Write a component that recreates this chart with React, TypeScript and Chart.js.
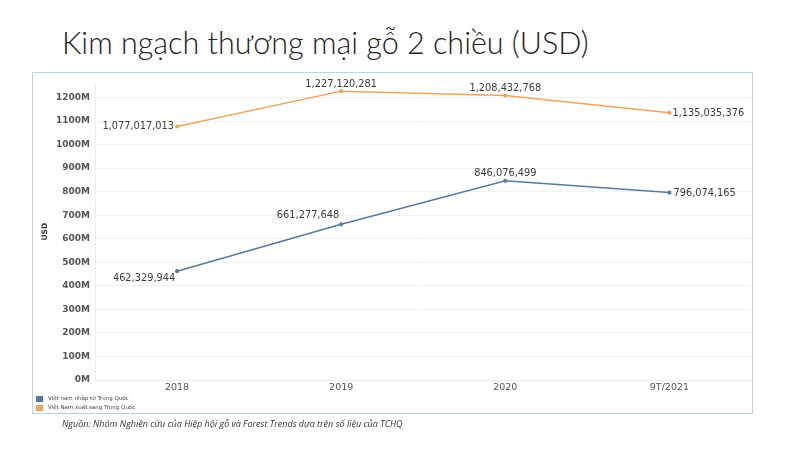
import React, { useEffect, useRef } from "react";
import { Chart, registerables } from "chart.js";

Chart.register(...registerables);

const categories = ["2018", "2019", "2020", "9T/2021"];
const importSeries = [462329944, 661277648, 846076499, 796074165];
const exportSeries = [1077017013, 1227120281, 1208432768, 1135035376];
const seriesNames = ["Việt nam nhập từ Trung Quốc", "Việt Nam xuất sang Trung Quốc"];
const yTickValues = [0, 100e6, 200e6, 300e6, 400e6, 500e6, 600e6, 700e6, 800e6, 900e6, 1000e6, 1100e6, 1200e6];
const yMax = 1260000000;

const titleText = "Kim ngạch thương mại gỗ 2 chiều (USD)";
const yTitle = "USD";
const sourceText = "Nguồn: Nhóm Nghiên cứu của Hiệp hội gỗ và Forest Trends dựa trên số liệu của TCHQ";

const BLUE = "#56799f";
const ORANGE = "#f0a35c";

// label placement per dataset per point: [align, dx, dy]
const labelPlacement: [CanvasTextAlign, number, number][][] = [
  [["center", -33, 7], ["right", -2, -9], ["center", 0, -7], ["left", 4, 1]],
  [["right", -3, 0], ["center", 0, -7], ["center", 0, -7], ["left", 3, 1]],
];

const fmt = (v: number) => v.toLocaleString("en-US");

const labelPlugin = {
  id: "pointLabels",
  afterDatasetsDraw(chart: any) {
    const ctx = chart.ctx;
    ctx.save();
    ctx.font = "9.8px 'DejaVu Sans'";
    ctx.fillStyle = "#3a3a3a";
    ctx.textBaseline = "middle";
    chart.data.datasets.forEach((ds: any, di: number) => {
      const meta = chart.getDatasetMeta(di);
      meta.data.forEach((pt: any, i: number) => {
        const [align, dx, dy] = labelPlacement[di][i];
        ctx.textAlign = align;
        ctx.fillText(fmt(ds.data[i]), pt.x + dx, pt.y + dy);
      });
    });
    ctx.restore();
  },
};

export default function App() {
  const ref = useRef<HTMLCanvasElement>(null);
  useEffect(() => {
    const chart = new Chart(ref.current!, {
      type: "line",
      data: {
        labels: categories,
        datasets: [
          {
            label: seriesNames[0],
            data: importSeries,
            borderColor: BLUE,
            backgroundColor: BLUE,
            borderWidth: 1.5,
            pointRadius: 1.3,
            tension: 0,
          },
          {
            label: seriesNames[1],
            data: exportSeries,
            borderColor: ORANGE,
            backgroundColor: ORANGE,
            borderWidth: 1.5,
            pointRadius: 1.3,
            tension: 0,
          },
        ],
      },
      options: {
        animation: false,
        responsive: false,
        layout: { padding: { left: 0, top: 8, right: 0, bottom: 13 } },
        plugins: { legend: { display: false }, tooltip: { enabled: false } },
        scales: {
          x: {
            offset: true,
            grid: { display: false, drawTicks: false },
            border: { color: "#ececec" },
            ticks: { color: "#555", font: { size: 9.5, family: "'DejaVu Sans'" }, padding: 2 },
            afterFit: (s: any) => { s.height = 20; },
          },
          y: {
            min: 0,
            max: yMax,
            afterBuildTicks: (s: any) => {
              s.ticks = yTickValues.map((v) => ({ value: v }));
            },
            ticks: {
              autoSkip: false,
              color: "#555",
              font: { size: 9, family: "'DejaVu Sans'", weight: "bold" },
              padding: 5,
              callback: (v: any) => `${Math.round(Number(v) / 1e6)}M`,
            },
            grid: { color: "#f1f1f1", drawTicks: false },
            border: { color: "#ececec" },
            title: {
              display: true,
              text: yTitle,
              color: "#333",
              font: { size: 7.5, weight: "bold", family: "'DejaVu Sans'" },
              padding: { top: 8, bottom: 0 },
            },
            afterFit: (s: any) => { s.width = 62; },
          },
        },
      },
      plugins: [labelPlugin],
    });
    return () => chart.destroy();
  }, []);

  return (
    <div style={{ position: "fixed", left: 0, top: 0, width: 800, height: 449, background: "#fff", overflow: "hidden" }}>
      <div style={{ position: "absolute", left: 62, top: 22, fontFamily: "Lato, 'Open Sans', sans-serif", fontWeight: 300, fontSize: 30.5, color: "#222", whiteSpace: "nowrap", lineHeight: "40px" }}>
        {titleText}
      </div>
      <div style={{ position: "absolute", left: 32, top: 72, width: 719, height: 340, border: "1px solid #b9d3e2" }}>
        <canvas ref={ref} width={724} height={340} style={{ position: "absolute", left: 0, top: 0 }} />
        <div style={{ position: "absolute", left: 3, top: 321, fontFamily: "'DejaVu Sans', sans-serif", fontSize: 5.5, color: "#444", lineHeight: "9px" }}>
          {seriesNames.map((n, i) => (
            <div key={n} style={{ display: "flex", alignItems: "center" }}>
              <span style={{ display: "inline-block", width: 7, height: 6, background: i === 0 ? BLUE : ORANGE, marginRight: 5 }} />
              {n}
            </div>
          ))}
        </div>
      </div>
      <div style={{ position: "absolute", left: 62, top: 417, fontFamily: "'Open Sans', sans-serif", fontStyle: "italic", fontSize: 9, color: "#333", whiteSpace: "nowrap" }}>
        {sourceText}
      </div>
    </div>
  );
}
